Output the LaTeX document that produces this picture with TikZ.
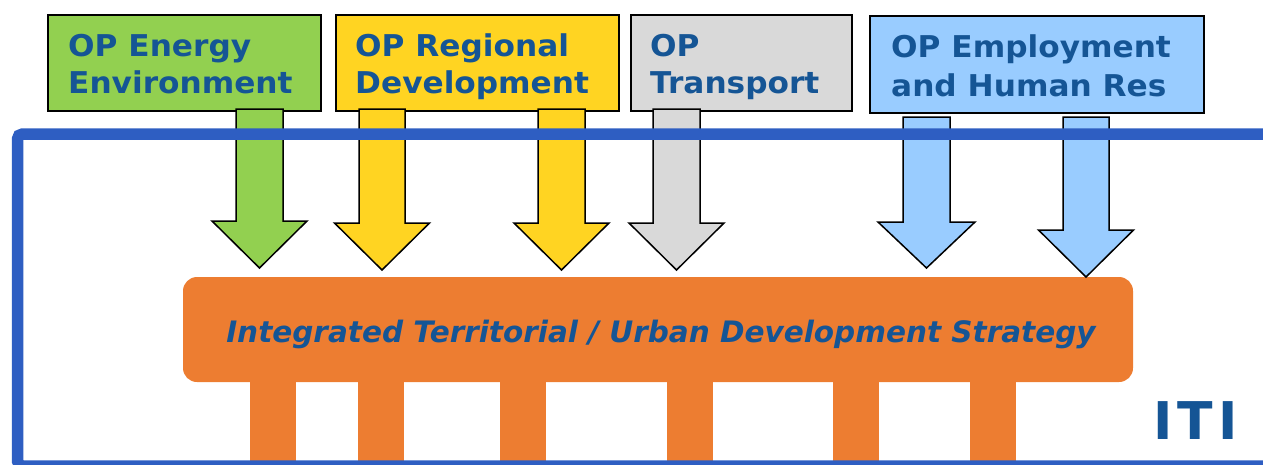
\documentclass[tikz,border=0pt]{standalone}
\usepackage{fontspec}
\setmainfont{DejaVu Sans}
\newfontfamily\boxfont[FakeStretch=1.04]{DejaVu Sans}
\definecolor{opgreen}{HTML}{92D050}
\definecolor{opyellow}{HTML}{FFD422}
\definecolor{opgray}{HTML}{D9D9D9}
\definecolor{opblue}{HTML}{99CCFF}
\definecolor{iudsorange}{HTML}{ED7D31}
\definecolor{framebl}{HTML}{2E5EC2}
\definecolor{txtblue}{HTML}{155595}
\newcommand\blkarrow[7]{%
  \draw[arrowline, fill=#1] (#2,#4) -- (#2,#5) -- ({(#2+#3)/2-#6},#5) -- ({(#2+#3)/2},#7)
    -- ({(#2+#3)/2+#6},#5) -- (#3,#5) -- (#3,#4) -- cycle;}
\begin{document}
\begin{tikzpicture}[x=1pt,y=-1pt,
  opbox/.style={draw=black, line width=2pt, inner sep=0pt, anchor=north west},
  optext/.style={anchor=base west, inner sep=0pt, text=txtblue,
    font=\boxfont\bfseries\fontsize{30}{36}\selectfont},
  arrowline/.style={draw=black, line width=1.5pt, line join=miter},
  leg/.style={fill=iudsorange, draw=none},
  frame/.style={draw=framebl, line width=11.5pt, rounded corners=5pt}]
\useasboundingbox (0,0) rectangle (1263,464);

% central strategy box and its legs
\foreach \lx in {250,358,500,667,833,970}
  \fill[leg] (\lx,375) rectangle ({\lx+46},475);
\node[fill=iudsorange, rounded corners=14pt, minimum width=950pt, minimum height=105pt,
  inner sep=0pt] (iuds) at (658,329.5) {};
\node[anchor=base, inner sep=0pt, text=txtblue,
  font=\bfseries\itshape\fontsize{29.5}{34}\selectfont] (iudstext) at (661,342)
  {Integrated Territorial / Urban Development Strategy};

% OP boxes
\node[opbox, fill=opgreen,  minimum width=273pt, minimum height=96pt] (energy) at (47,14) {};
\node[opbox, fill=opyellow, minimum width=283pt, minimum height=96pt] (regional) at (335,14) {};
\node[opbox, fill=opgray,   minimum width=221pt, minimum height=96pt] (transport) at (630,14) {};
\node[opbox, fill=opblue,   minimum width=334pt, minimum height=97pt] (employment) at (869,15) {};

\node[optext] (t1a) at (68,56) {OP Energy};
\node[optext] (t1b) at (68,93) {Environment};
\node[optext] (t2a) at (355,56) {OP Regional};
\node[optext] (t2b) at (355,93) {Development};
\node[optext] (t3a) at (650,56) {OP};
\node[optext] (t3b) at (650,93) {Transport};
\node[optext] (t4a) at (891,57) {OP Employment};
\node[optext] (t4b) at (891,96) {and Human Res};

% block arrows
\blkarrow{opgreen}{236}{283}{109}{221}{47.5}{268}
\blkarrow{opyellow}{359}{405}{109}{223}{47.5}{270}
\blkarrow{opyellow}{538}{585}{109}{223}{47.5}{270}
\blkarrow{opgray}{653}{700}{109}{223}{47.5}{270}
\blkarrow{opblue}{903}{950}{117}{222}{48.5}{268}
\blkarrow{opblue}{1063}{1109}{117}{230}{47.5}{277}

% ITI frame
\draw[frame] (1300,134) -- (17.5,134) -- (17.5,466) -- (1300,466);
\node[anchor=base west, inner sep=0pt, text=txtblue,
  font=\bfseries\fontsize{52}{56}\selectfont] (iti) at (1153,439)
  {I\hspace{5pt}T\hspace{5pt}I};
\end{tikzpicture}
\end{document}
